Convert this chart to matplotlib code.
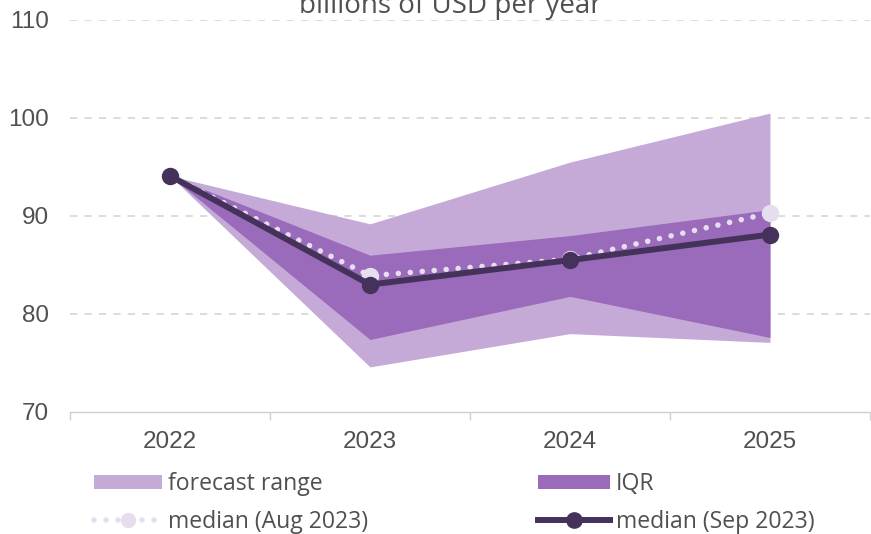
import matplotlib
matplotlib.use("Agg")
import matplotlib.pyplot as plt
from matplotlib.patches import Patch
from matplotlib.lines import Line2D

years = ["2022", "2023", "2024", "2025"]
range_low = [94.1, 74.6, 78.0, 77.1]
range_high = [94.1, 89.2, 95.5, 100.5]
iqr_low = [94.1, 77.4, 81.8, 77.6]
iqr_high = [94.1, 86.0, 88.0, 90.65]
median_aug = [94.1, 83.9, 85.6, 90.3]
median_sep = [94.1, 83.0, 85.5, 88.1]
yticks = [70, 80, 90, 100, 110]

c_range = "#C5AAD8"
c_iqr = "#9A6BBA"
c_sep = "#45325A"
c_aug = "#E6DEEE"
txt = "#505050"
human = ['Open Sans', 'DejaVu Sans']

plt.rcParams['font.family'] = ['Liberation Sans', 'DejaVu Sans']

fig = plt.figure(figsize=(8.71, 5.34), dpi=100)
ax = fig.add_axes([70/871, 1-412/534, 800/871, 392/534])
x = [i + 0.5 for i in range(len(years))]

ax.fill_between(x, range_low, range_high, color=c_range, lw=0, zorder=2)
ax.fill_between(x, iqr_low, iqr_high, color=c_iqr, lw=0, zorder=3)
aug_ls = (0, (0.01, 2.15))
ax.plot(x, median_aug, color=c_aug, lw=4, ls=aug_ls, dash_capstyle='round',
        marker='o', ms=11.5, mec=c_aug, mfc=c_aug, zorder=4)
ax.plot(x, median_sep, color=c_sep, lw=4.3, marker='o', ms=11.5,
        mec=c_sep, mfc=c_sep, zorder=5, solid_capstyle='round')

ax.set_xlim(0, 4)
ax.set_ylim(70, 110)
ax.set_yticks(yticks)
ax.set_yticklabels([str(v) for v in yticks], color=txt, fontsize=17.5)
ax.set_xticks([0, 1, 2, 3, 4])
ax.set_xticklabels([])
ax.set_xticks(x, minor=True)
ax.set_xticklabels(years, minor=True, color=txt, fontsize=17.5)
ax.tick_params(axis='x', which='minor', length=0, pad=14)
ax.tick_params(axis='x', which='major', length=6, color='#D0D0D0', width=1)
ax.tick_params(axis='y', length=0, pad=15)

for s in ['top', 'right', 'left']:
    ax.spines[s].set_visible(False)
ax.spines['bottom'].set_color('#D0D0D0')
ax.spines['bottom'].set_linewidth(1)
for v in [80, 90, 100, 110]:
    ax.axhline(v, color='#D9D9D9', lw=1.3, ls=(0, (4, 4)), zorder=1)

fig.text(450/871, 1 - 13/534, "billions of USD per year", ha='center', va='baseline',
         fontsize=20, color=txt, family=human)

h_range = Patch(facecolor=c_range, edgecolor='none')
h_iqr = Patch(facecolor=c_iqr, edgecolor='none')
h_aug = Line2D([], [], color=c_aug, lw=4, ls=aug_ls, dash_capstyle='round',
               marker='o', ms=10, mfc=c_aug, mec=c_aug)
h_sep = Line2D([], [], color=c_sep, lw=4.3, marker='o', ms=11, mfc=c_sep, mec=c_sep)

fs = 16.6
fs_px = fs * 100 / 72
leg_kw = dict(loc='upper left', frameon=False, handleheight=14/fs_px,
              labelspacing=0.6, handletextpad=6/fs_px, borderaxespad=0, borderpad=0,
              prop={'family': human, 'size': fs})
leg1 = fig.legend([h_range, h_aug], ["forecast range", "median (Aug 2023)"],
                  bbox_to_anchor=(94/871, 1 - 472/534), handlelength=68/fs_px, **leg_kw)
leg2 = fig.legend([h_iqr, h_sep], ["IQR", "median (Sep 2023)"],
                  bbox_to_anchor=(538/871, 1 - 472/534), handlelength=72/fs_px, **leg_kw)
for leg in (leg1, leg2):
    for t in leg.get_texts():
        t.set_color(txt)

fig.savefig("out.png", dpi=100)
